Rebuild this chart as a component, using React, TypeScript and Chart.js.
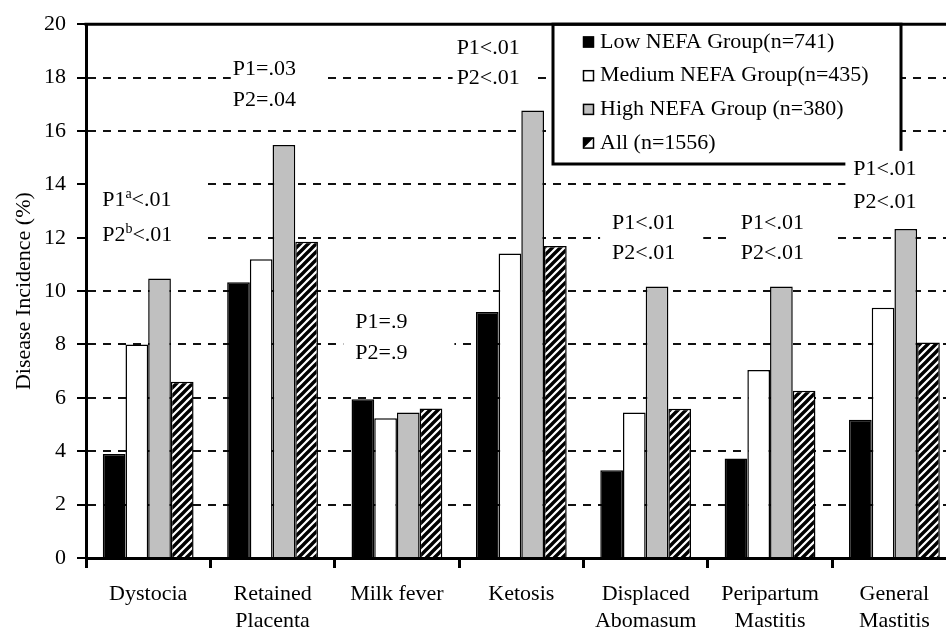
import React, { useEffect, useRef } from "react";
import { Chart, registerables } from "chart.js";
Chart.register(...registerables);

// ---- data ----
const categories: string[][] = [
  ["Dystocia"],
  ["Retained", "Placenta"],
  ["Milk fever"],
  ["Ketosis"],
  ["Displaced", "Abomasum"],
  ["Peripartum", "Mastitis"],
  ["General", "Mastitis"],
];
const lowNEFA = [3.9, 10.33, 5.95, 9.22, 3.29, 3.73, 5.18];
const mediumNEFA = [8.0, 11.19, 5.24, 11.41, 5.45, 7.04, 9.38];
const highNEFA = [10.47, 15.47, 5.45, 16.77, 10.17, 10.17, 12.33];
const allCows = [6.6, 11.85, 5.6, 11.69, 5.59, 6.27, 8.07];
const seriesNames = [
  "Low NEFA Group(n=741)",
  "Medium NEFA Group(n=435)",
  "High NEFA Group (n=380)",
  "All (n=1556)",
];
const yMin = 0;
const yMax = 20;
const yStep = 2;
const yTitle = "Disease Incidence (%)";

// P-value annotations ("^x" marks a superscript letter)
const pLine1 = ["P1^a<.01", "P1=.03", "P1=.9", "P1<.01", "P1<.01", "P1<.01", "P1<.01"];
const pLine2 = ["P2^b<.01", "P2=.04", "P2=.9", "P2<.01", "P2<.01", "P2<.01", "P2<.01"];
// annotation placement (fraction of category from its left edge, and value-axis heights)
const annLeft = [0.13, 0.18, 0.165, -0.02, 0.23, 0.265, 0.17];
const annY1 = [13.4, 18.3, 8.85, 19.1, 12.55, 12.55, 14.58];
const annY2 = [12.1, 17.15, 7.68, 17.98, 11.42, 11.42, 13.34];
const annPadL = [16, 2, 12, 4, 12, 8, 8];
const annPadR = [32, 31, 47, 18, 28, 28, 30];

const FONT_FAMILY = '"Liberation Serif", "Times New Roman", serif';
const FS = 22;
const GRAY = "#c0c0c0";

function makeHatch(): CanvasPattern | string {
  const c = document.createElement("canvas");
  c.width = 8;
  c.height = 8;
  const g = c.getContext("2d");
  if (!g) return "#000";
  g.fillStyle = "#fff";
  g.fillRect(0, 0, 8, 8);
  g.strokeStyle = "#000";
  g.lineWidth = 3.4;
  g.beginPath();
  g.moveTo(-2, 2);
  g.lineTo(2, -2);
  g.moveTo(-1, 9);
  g.lineTo(9, -1);
  g.moveTo(6, 10);
  g.lineTo(10, 6);
  g.stroke();
  const p = g.createPattern(c, "repeat");
  return p || "#000";
}

function richParts(s: string): { t: string; sup: boolean }[] {
  const parts = s.split(/\^(.)/);
  return parts.map((t, i) => ({ t, sup: i % 2 === 1 })).filter((p) => p.t.length > 0);
}
function richWidth(ctx: CanvasRenderingContext2D, s: string) {
  let w = 0;
  for (const p of richParts(s)) {
    ctx.font = `${p.sup ? 14 : FS}px ${FONT_FAMILY}`;
    w += ctx.measureText(p.t).width;
  }
  return w;
}
function drawRich(ctx: CanvasRenderingContext2D, s: string, x: number, y: number) {
  let cx = x;
  ctx.textBaseline = "middle";
  ctx.textAlign = "left";
  for (const p of richParts(s)) {
    ctx.font = `${p.sup ? 14 : FS}px ${FONT_FAMILY}`;
    ctx.fillText(p.t, cx, p.sup ? y - 6 : y);
    cx += ctx.measureText(p.t).width;
  }
}

export default function App() {
  const ref = useRef<HTMLCanvasElement | null>(null);
  useEffect(() => {
    const canvas = ref.current;
    if (!canvas) return;
    const hatch = makeHatch();

    const overlay = {
      id: "overlay",
      afterDatasetsDraw(chart: any) {
        const ctx: CanvasRenderingContext2D = chart.ctx;
        const xs = chart.scales.x;
        const ys = chart.scales.y;
        const area = chart.chartArea;
        const catW = xs.getPixelForValue(1) - xs.getPixelForValue(0);
        ctx.save();

        // legend box
        const lg = { l: 553, t: area.top, r: 901, b: 164 };
        ctx.fillStyle = "#fff";
        ctx.fillRect(lg.l, lg.t, lg.r - lg.l, lg.b - lg.t);
        ctx.strokeStyle = "#000";
        ctx.lineWidth = 3;
        ctx.strokeRect(lg.l, lg.t, lg.r - lg.l, lg.b - lg.t);
        const fills: any[] = ["#000", "#fff", GRAY, null];
        for (let i = 0; i < seriesNames.length; i++) {
          const cy = 42 + i * 33.7;
          const mx = 583;
          const ms = 11;
          const my = cy - ms / 2;
          if (fills[i]) {
            ctx.fillStyle = fills[i];
            ctx.fillRect(mx, my, ms, ms);
          } else {
            ctx.fillStyle = "#fff";
            ctx.fillRect(mx, my, ms, ms);
            ctx.fillStyle = "#000";
            ctx.beginPath();
            ctx.moveTo(mx, my);
            ctx.lineTo(mx + ms, my);
            ctx.lineTo(mx, my + ms);
            ctx.closePath();
            ctx.fill();
          }
          ctx.lineWidth = 1.5;
          ctx.strokeStyle = "#000";
          ctx.strokeRect(mx + 0.5, my + 0.5, ms - 1, ms - 1);
          ctx.fillStyle = "#000";
          ctx.font = `${FS}px ${FONT_FAMILY}`;
          ctx.textBaseline = "middle";
          ctx.textAlign = "left";
          ctx.fillText(seriesNames[i], 600, cy);
        }

        // P-value annotations with white backgrounds
        for (let i = 0; i < pLine1.length; i++) {
          const left = xs.getPixelForValue(i) - catW / 2 + annLeft[i] * catW;
          const y1 = ys.getPixelForValue(annY1[i]);
          const y2 = ys.getPixelForValue(annY2[i]);
          const w = Math.max(richWidth(ctx, pLine1[i]), richWidth(ctx, pLine2[i]));
          const bx = Math.max(left - annPadL[i], area.left + 2);
          const br = left + w + annPadR[i];
          const by = y1 - 18;
          ctx.fillStyle = "#fff";
          ctx.fillRect(bx, by, br - bx, y2 + 18 - by);
          ctx.fillStyle = "#000";
          drawRich(ctx, pLine1[i], left, y1);
          drawRich(ctx, pLine2[i], left, y2);
        }

        // solid top border of the plot
        ctx.strokeStyle = "#000";
        ctx.lineWidth = 3;
        ctx.beginPath();
        ctx.moveTo(area.left - 1.5, area.top);
        ctx.lineTo(chart.width, area.top);
        ctx.stroke();
        ctx.restore();
      },
    };

    const common = { borderColor: "#000", borderWidth: 1.5, borderSkipped: "start" as const };
    const chart = new Chart(canvas, {
      type: "bar",
      data: {
        labels: categories as any,
        datasets: [
          { label: seriesNames[0], data: lowNEFA, backgroundColor: "#000", ...common },
          { label: seriesNames[1], data: mediumNEFA, backgroundColor: "#fff", ...common },
          { label: seriesNames[2], data: highNEFA, backgroundColor: GRAY, ...common },
          { label: seriesNames[3], data: allCows, backgroundColor: hatch as any, ...common },
        ],
      },
      options: {
        animation: false,
        responsive: false,
        devicePixelRatio: 1,
        layout: { padding: { top: 20, left: 0, right: 972 - 956.6, bottom: 0 } },
        datasets: { bar: { categoryPercentage: 0.73, barPercentage: 1 } } as any,
        plugins: {
          legend: { display: false },
          tooltip: { enabled: false },
          title: { display: false },
        },
        scales: {
          x: {
            type: "category",
            offset: true,
            grid: {
              display: true,
              offset: true,
              drawOnChartArea: false,
              drawTicks: true,
              tickLength: 10,
              tickWidth: 3,
              tickColor: "#000",
            },
            border: { display: true, color: "#000", width: 3 },
            ticks: {
              color: "#000",
              font: { family: FONT_FAMILY, size: FS, lineHeight: 1.22 },
              padding: 13,
              maxRotation: 0,
              autoSkip: false,
            },
            afterFit: (s: any) => {
              s.height = 74;
            },
          },
          y: {
            min: yMin,
            max: yMax,
            ticks: {
              stepSize: yStep,
              color: "#000",
              font: { family: FONT_FAMILY, size: FS },
              padding: 11,
            },
            grid: {
              color: (c: any) =>
                c.tick && (c.tick.value === yMin || c.tick.value === yMax) ? "rgba(0,0,0,0)" : "#111",
              lineWidth: 2,
              tickLength: 9,
              tickWidth: 2,
              tickColor: "#000",
            },
            border: { display: true, color: "#000", width: 3, dash: [8, 7] },
            title: {
              display: true,
              text: yTitle,
              color: "#000",
              font: { family: FONT_FAMILY, size: FS },
              padding: { top: 11, bottom: 0 },
            },
            afterFit: (s: any) => {
              s.width = 86;
            },
          },
        },
      },
      plugins: [overlay],
    });
    return () => chart.destroy();
  }, []);

  return (
    <div
      style={{
        position: "absolute",
        left: 0,
        top: 0,
        width: 946,
        height: 632,
        overflow: "hidden",
        background: "#fff",
      }}
    >
      <canvas ref={ref} width={972} height={632} style={{ width: 972, height: 632, display: "block" }} />
    </div>
  );
}
